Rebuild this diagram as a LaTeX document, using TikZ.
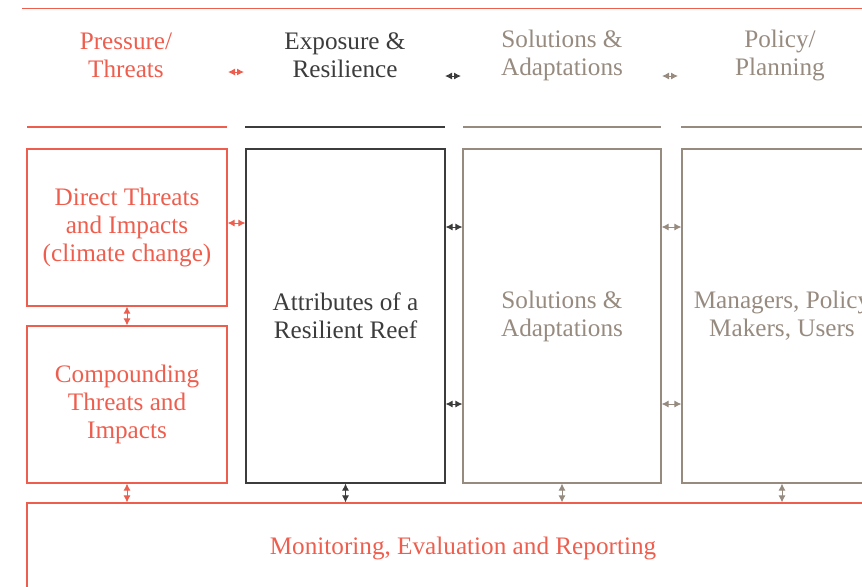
\documentclass[tikz,border=0pt]{standalone}
\usepackage{fontspec}
\setmainfont{Liberation Serif}
\usetikzlibrary{arrows.meta}
\definecolor{threatred}{HTML}{EE5E4E}
\definecolor{reefgrey}{HTML}{3C3C3C}
\definecolor{taupe}{HTML}{978B80}
\begin{document}
\begin{tikzpicture}[
   x=0.5pt,y=-0.5pt,
   font=\fontsize{12.6}{14}\selectfont,
   box/.style={draw,line width=0.55pt,align=center,inner sep=0pt},
   head/.style={align=center,inner sep=0pt},
   to/.style={{Latex[length=3.5pt,width=3.5pt]}-{Latex[length=3.5pt,width=3.5pt]},line width=0.5pt}]
\useasboundingbox (0,0) rectangle (862,586);
\clip (0,0) rectangle (862,586);
% headings
\node[head,threatred] (PT) at (126,55) {Pressure/\\Threats};
\node[head,reefgrey] (ER) at (345,55) {Exposure \&\\Resilience};
\node[head,taupe] (SA) at (562,55) {Solutions \&\\Adaptations};
\node[head,taupe] (PP) at (780,55) {Policy/\\Planning};
\draw[threatred,line width=0.5pt] (22,8) -- (870,8);
\draw[threatred,line width=0.55pt] (27,127) -- (227,127);
\draw[reefgrey,line width=0.55pt] (245,127) -- (445,127);
\draw[taupe,line width=0.55pt] (463,127) -- (661,127);
\draw[taupe,line width=0.55pt] (681,127) -- (870,127);
\coordinate (h1) at (228,72);  \coordinate (h2) at (244,72);
\coordinate (h3) at (445,76);  \coordinate (h4) at (461,76);
\coordinate (h5) at (662,76);  \coordinate (h6) at (678,76);
\draw[to,threatred] (h1) -- (h2);
\draw[to,reefgrey] (h3) -- (h4);
\draw[to,taupe] (h5) -- (h6);
% boxes
\node[box,threatred,minimum width=100pt,minimum height=78.5pt] (DT) at (127,227.5) {Direct Threats\\and Impacts\\(climate change)};
\node[box,threatred,minimum width=100pt,minimum height=78.5pt] (CT) at (127,404.5) {Compounding\\Threats and\\Impacts};
\node[box,reefgrey,minimum width=99.5pt,minimum height=167pt] (AR) at (345.5,316) {Attributes of a\\Resilient Reef};
\node[box,taupe,minimum width=99pt,minimum height=167pt] (SO) at (562,316) {Solutions \&\\Adaptations};
\node[box,taupe,minimum width=100pt,minimum height=167pt] (MP) at (782,316) {Managers, Policy\\Makers, Users};
\node[box,threatred,minimum width=436pt,minimum height=45pt] (MR) at (463,548) {Monitoring, Evaluation and Reporting};
% links
\draw[to,threatred] ([yshift=2.25pt]DT.east) -- ([yshift=2.25pt]DT.east -| AR.west);
\draw[to,reefgrey] ([yshift=44.5pt]AR.east) -- ([yshift=44.5pt]SO.west);
\draw[to,reefgrey] ([yshift=-44pt]AR.east) -- ([yshift=-44pt]SO.west);
\draw[to,taupe] ([yshift=44.5pt]SO.east) -- ([yshift=44.5pt]MP.west);
\draw[to,taupe] ([yshift=-44pt]SO.east) -- ([yshift=-44pt]MP.west);
\draw[to,threatred] (DT.south) -- (CT.north);
\draw[to,threatred] (CT.south) -- (CT.south |- MR.north);
\draw[to,reefgrey] (AR.south) -- (AR.south |- MR.north);
\draw[to,taupe] (SO.south) -- (SO.south |- MR.north);
\draw[to,taupe] (MP.south) -- (MP.south |- MR.north);
\end{tikzpicture}
\end{document}
